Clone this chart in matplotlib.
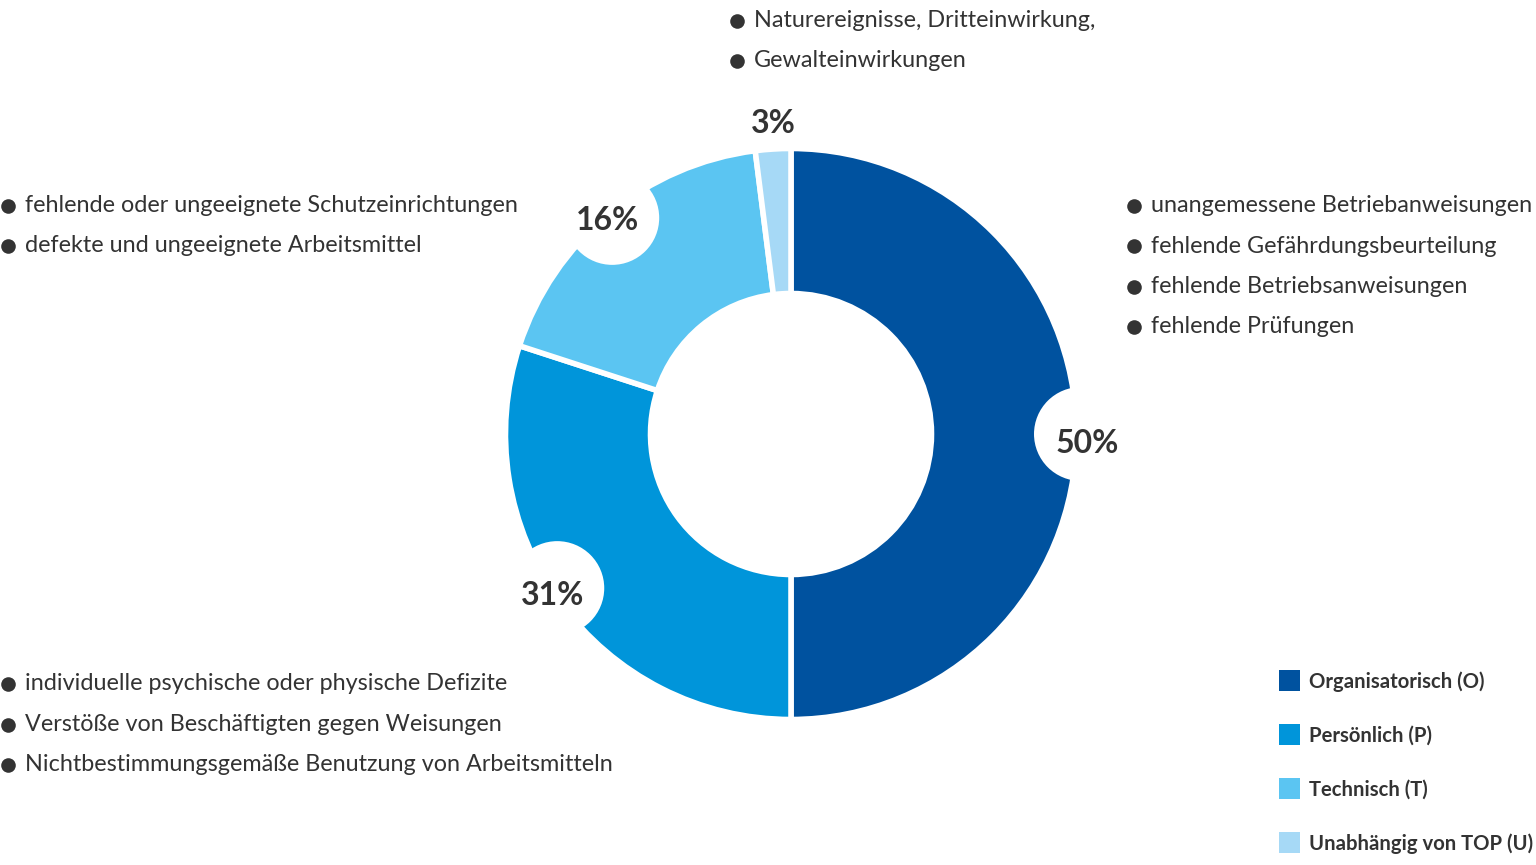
import matplotlib
matplotlib.use("Agg")
import matplotlib.pyplot as plt
from matplotlib.patches import Circle, Rectangle
import numpy as np

# ---- data ----
categories = ["Organisatorisch (O)", "Persönlich (P)", "Technisch (T)", "Unabhängig von TOP (U)"]
drawn_shares = [50, 30, 18, 2]          # slice sizes as drawn in the picture
pct_labels = ["50%", "31%", "16%", "3%"]  # printed labels
colors = ["#00529F", "#0095DA", "#5BC5F2", "#A6D9F6"]

top_items = ["Naturereignisse, Dritteinwirkung,", "Gewalteinwirkungen"]
right_items = ["unangemessene Betriebanweisungen", "fehlende Gefährdungsbeurteilung",
               "fehlende Betriebsanweisungen", "fehlende Prüfungen"]
left_upper_items = ["fehlende oder ungeeignete Schutzeinrichtungen",
                    "defekte und ungeeignete Arbeitsmittel"]
left_lower_items = ["individuelle psychische oder physische Defizite",
                    "Verstöße von Beschäftigten gegen Weisungen",
                    "Nichtbestimmungsgemäße Benutzung von Arbeitsmitteln"]

W, H = 1536, 865
TXT = "#333333"
FONT = "Lato"

fig = plt.figure(figsize=(W / 100, H / 100), dpi=100)
ax = fig.add_axes([0, 0, 1, 1])

cx, cy_img = 791, 434
cy = H - cy_img
R_out, R_in = 285.5, 140.5
gap_lw = 4.0

wedges, _ = ax.pie(drawn_shares, colors=colors, startangle=90, counterclock=False,
                   center=(cx, cy), radius=R_out,
                   wedgeprops=dict(width=R_out - R_in, edgecolor="white", linewidth=gap_lw))

ax.set_xlim(0, W)
ax.set_ylim(0, H)
ax.set_aspect("equal")
ax.axis("off")

def Y(y):
    return H - y

def polar(r, theta_deg):
    # theta measured clockwise from the top
    t = np.deg2rad(theta_deg)
    return cx + r * np.sin(t), cy + r * np.cos(t)

# label placement (style): radius of bubble / text and small angle nudges
bubble_r = [290, 280, 280.5, None]
bubble_nudge = [0.0, 2.6, 0.0, 0.0]
text_r = [296, 285.7, 283.7, 314.5]
text_nudge = [1.2, 2.4, -0.8, 0.3]

total = sum(drawn_shares)
cum = 0
for i, (v, lab) in enumerate(zip(drawn_shares, pct_labels)):
    mid_deg = 360 * (cum + v / 2) / total
    cum += v
    if bubble_r[i] is not None:
        bx, by = polar(bubble_r[i], mid_deg + bubble_nudge[i])
        ax.add_patch(Circle((bx, by), 47, facecolor="white", edgecolor="none", zorder=5))
    tx, ty = polar(text_r[i], mid_deg + text_nudge[i])
    ax.text(tx, ty - 3, lab, ha="center", va="center", fontsize=23, fontweight="bold",
            color=TXT, family=FONT, zorder=6)

# bullet lists
def bullets(items, x_b, y_first, step):
    for k, t in enumerate(items):
        yb = y_first + k * step
        ax.plot([x_b], [Y(yb)], marker="o", markersize=10.5, color=TXT, zorder=6,
                markeredgewidth=0)
        ax.text(x_b + 17, Y(yb + 6.3), t, ha="left", va="baseline", fontsize=16.8,
                color=TXT, family=FONT, zorder=6)

bullets(top_items, 737, 20.5, 40)
bullets(right_items, 1134, 206, 40.3)
bullets(left_upper_items, 8, 206, 40)
bullets(left_lower_items, 8, 684, 40.5)

# legend
for k, (c, lab) in enumerate(zip(colors, categories)):
    yc = 680 + k * 54
    ax.add_patch(Rectangle((1279, Y(yc + 10.5)), 21, 21, facecolor=c, edgecolor="none"))
    ax.text(1309, Y(yc + 8), lab, ha="left", va="baseline", fontsize=14.6, fontweight="bold",
            color=TXT, family=FONT)

fig.savefig("out.png", dpi=100, facecolor="white")
